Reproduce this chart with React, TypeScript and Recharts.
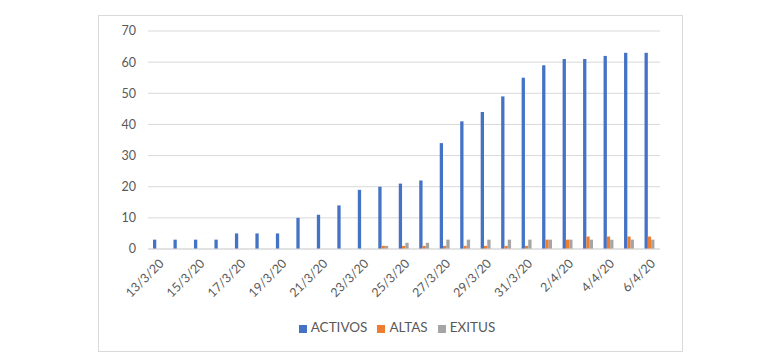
import { BarChart, Bar, XAxis, YAxis, CartesianGrid, Legend } from "recharts";

const dates = [
  "13/3/20", "14/3/20", "15/3/20", "16/3/20", "17/3/20", "18/3/20", "19/3/20",
  "20/3/20", "21/3/20", "22/3/20", "23/3/20", "24/3/20", "25/3/20", "26/3/20",
  "27/3/20", "28/3/20", "29/3/20", "30/3/20", "31/3/20", "1/4/20", "2/4/20",
  "3/4/20", "4/4/20", "5/4/20", "6/4/20",
];
const activos = [3, 3, 3, 3, 5, 5, 5, 10, 11, 14, 19, 20, 21, 22, 34, 41, 44, 49, 55, 59, 61, 61, 62, 63, 63];
const altas = [0, 0, 0, 0, 0, 0, 0, 0, 0, 0, 0, 1, 1, 1, 1, 1, 1, 1, 1, 3, 3, 4, 4, 4, 4];
const exitus = [0, 0, 0, 0, 0, 0, 0, 0, 0, 0, 0, 1, 2, 2, 3, 3, 3, 3, 3, 3, 3, 3, 3, 3, 3];
const yTicks = [0, 10, 20, 30, 40, 50, 60, 70];

const data = dates.map((d, i) => ({
  date: d,
  ACTIVOS: activos[i],
  ALTAS: altas[i],
  EXITUS: exitus[i],
}));

const font = "Lato, 'Open Sans', sans-serif";
const textColor = "#595959";

export default function App() {
  return (
    <div
      style={{
        marginLeft: 90,
        marginTop: 7,
        width: 585,
        height: 337,
        border: "1px solid #d9d9d9",
        boxSizing: "border-box",
        fontFamily: font,
      }}
    >
      <BarChart
        width={583}
        height={335}
        data={data}
        margin={{ top: 15, right: 22, bottom: 16, left: 9 }}
        barGap={0}
        barSize={3.3}
      >
        <CartesianGrid vertical={false} stroke="#d9d9d9" />
        <XAxis
          dataKey="date"
          interval={1}
          angle={-45}
          textAnchor="end"
          height={70}
          tickLine={false}
          axisLine={{ stroke: "#d9d9d9" }}
          tickMargin={3}
          tick={{ fontSize: 12.5, fill: textColor, fontFamily: font }}
        />
        <YAxis
          domain={[0, 70]}
          ticks={yTicks}
          width={40}
          axisLine={false}
          tickLine={false}
          tickMargin={6}
          tick={{ fontSize: 12.5, fill: textColor, fontFamily: font }}
        />
        <Legend
          iconType="square"
          iconSize={8}
          wrapperStyle={{ fontSize: 13.5, color: textColor, fontFamily: font, paddingLeft: 18 }}
          formatter={(v) => <span style={{ color: textColor }}>{v}</span>}
        />
        <Bar dataKey="ACTIVOS" fill="#4472C4" isAnimationActive={false} />
        <Bar dataKey="ALTAS" fill="#ED7D31" isAnimationActive={false} />
        <Bar dataKey="EXITUS" fill="#A5A5A5" isAnimationActive={false} />
      </BarChart>
    </div>
  );
}
